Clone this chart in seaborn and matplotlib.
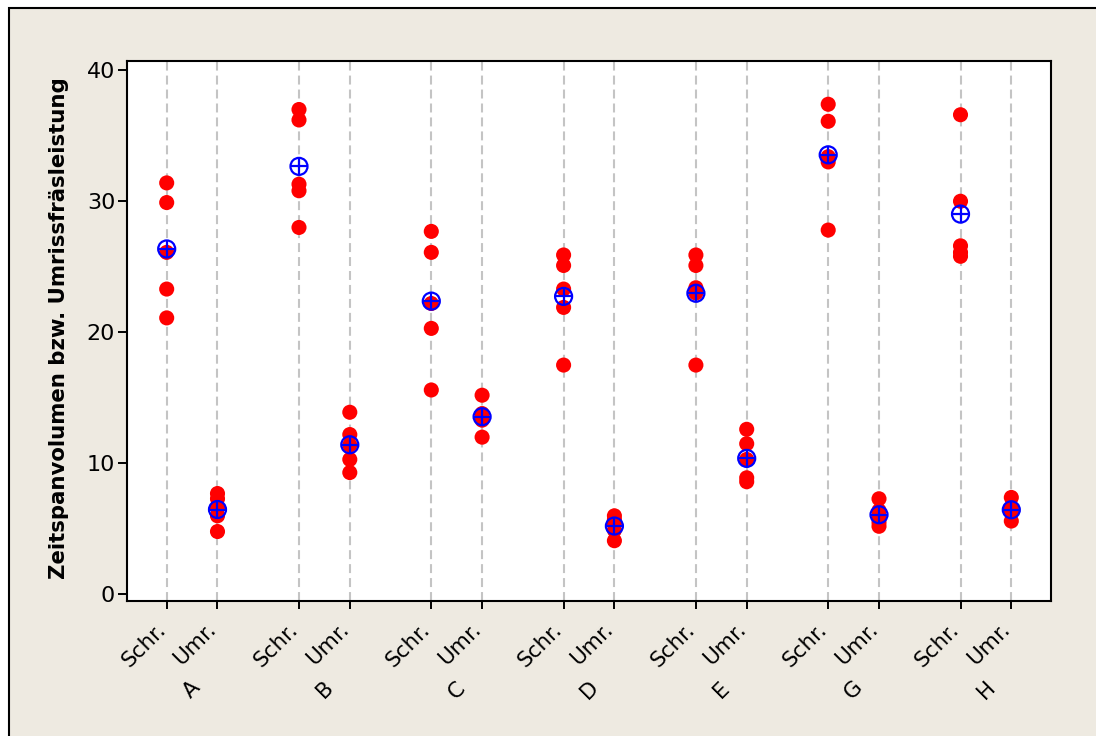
import matplotlib
matplotlib.use("Agg")
import matplotlib.pyplot as plt
import matplotlib.transforms as mtransforms
from matplotlib.patches import Rectangle
import numpy as np
import pandas as pd
import seaborn as sns

# ---------------- data ----------------
groups = ["A", "B", "C", "D", "E", "G", "H"]
methods = ["Schr.", "Umr."]
schr_values = [
    [31.4, 29.9, 26.1, 23.3, 21.1],   # A
    [37.0, 36.2, 31.3, 30.8, 28.0],   # B
    [27.7, 26.1, 22.2, 20.3, 15.6],   # C
    [25.9, 25.1, 23.3, 21.9, 17.5],   # D
    [25.9, 25.1, 23.4, 23.0, 17.5],   # E
    [37.4, 36.1, 33.4, 33.0, 27.8],   # G
    [36.6, 30.0, 26.6, 26.1, 25.8],   # H
]
umr_values = [
    [7.7, 7.3, 6.6, 6.0, 4.8],        # A
    [13.9, 12.2, 11.4, 10.3, 9.3],    # B
    [15.2, 13.8, 13.5, 13.3, 12.0],   # C
    [6.0, 5.7, 5.4, 4.9, 4.1],        # D
    [12.6, 11.5, 10.3, 8.9, 8.6],     # E
    [7.3, 6.4, 6.0, 5.5, 5.2],        # G
    [7.4, 6.6, 6.4, 6.3, 5.6],        # H
]
y_ticks = [0, 10, 20, 30, 40]
y_label = "Zeitspanvolumen bzw. Umrissfräsleistung"

# ---------------- layout helpers ----------------
method_offset = {"Schr.": 0.0, "Umr.": 0.384}

rows = []
for gi, g in enumerate(groups):
    for m, vals in (("Schr.", schr_values[gi]), ("Umr.", umr_values[gi])):
        for v in vals:
            rows.append({"group": g, "method": m, "value": v,
                         "pos": gi + method_offset[m]})
df = pd.DataFrame(rows)
means = df.groupby(["group", "method"], as_index=False).agg(
    value=("value", "mean"), pos=("pos", "first"))

# ---------------- figure ----------------
sns.set_theme(style="white")
plt.rcParams["font.family"] = ["DejaVu Sans"]

W, H = 1096, 736
fig = plt.figure(figsize=(W / 100, H / 100), dpi=100)
fig.patch.set_facecolor("white")
bg = Rectangle((9 / W, -0.2), 1.5, 1.2 - 7.5 / H, transform=fig.transFigure,
               facecolor="#EEEAE1", edgecolor="black", linewidth=1.5, zorder=-10)
fig.patches.append(bg)

ax = fig.add_axes([127 / W, 1 - 601 / H, (1051 - 127) / W, (601 - 61) / H])
ax.set_facecolor("white")

sns.scatterplot(data=df, x="pos", y="value", ax=ax, color="#FF0000",
                marker="o", s=118, edgecolor="none", linewidth=0, zorder=3,
                legend=False)
sns.scatterplot(data=means, x="pos", y="value", ax=ax, marker="o", s=150,
                facecolor="none", edgecolor="#0000FF", linewidth=1.6,
                zorder=4, legend=False)
sns.scatterplot(data=means, x="pos", y="value", ax=ax, marker="+", s=150,
                color="#0000FF", linewidth=1.6, zorder=5, legend=False)

ax.set_xlim(-0.30, len(groups) - 1 + method_offset["Umr."] + 0.30)
ax.set_ylim(-0.5, 40.7)

tick_pos = [gi + method_offset[m] for gi in range(len(groups)) for m in methods]
tick_lab = [m for _ in groups for m in methods]
ax.set_xticks(tick_pos)
ax.set_xticklabels(tick_lab)
ax.set_yticks(y_ticks)
ax.set_yticklabels([str(t) for t in y_ticks])

ax.tick_params(axis="x", direction="out", length=5.8, width=1.4, color="black",
               pad=15.5, labelsize=15.5, labelcolor="black", bottom=True)
ax.tick_params(axis="y", direction="out", length=6.5, width=1.4, color="black",
               pad=2.0, labelsize=16, labelcolor="black", left=True)
for lbl in ax.get_xticklabels():
    lbl.set_rotation(45)
    lbl.set_ha("right")
    lbl.set_va("baseline")
    lbl.set_rotation_mode("anchor")

ax.xaxis.grid(True, color="#C4C4C4", linewidth=1.5, linestyle=(0, (4.3, 2.4)),
              zorder=0)
ax.yaxis.grid(False)
ax.set_axisbelow(True)

for sp in ax.spines.values():
    sp.set_color("black")
    sp.set_linewidth(1.5)
    sp.set_visible(True)

ax.set_xlabel("")
ax.set_ylabel(y_label, fontsize=15.3, fontweight="bold", color="black")
ax.yaxis.set_label_coords(-0.063, 0.505)

# group labels under each pair of ticks
trans = mtransforms.blended_transform_factory(ax.transData, fig.transFigure)
for gi, g in enumerate(groups):
    ax.text(gi + method_offset["Umr."] / 2, 1 - 690 / H, g, transform=trans,
            rotation=45, ha="center", va="center", fontsize=15.5, color="black")

fig.savefig("out.png", dpi=100, facecolor=fig.get_facecolor())
